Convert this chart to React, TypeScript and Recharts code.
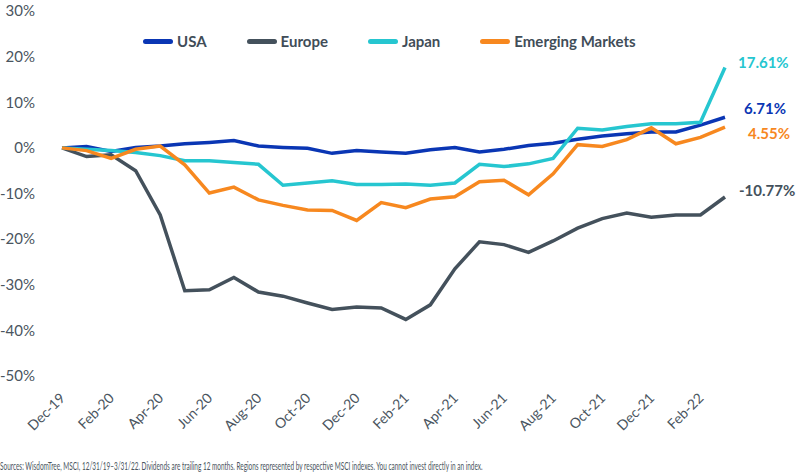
import React from 'react';
import { LineChart, Line, XAxis, YAxis, Legend, LabelList } from 'recharts';

// Monthly observations, Dec-19 through Mar-22
const months = [
  'Dec-19', 'Jan-20', 'Feb-20', 'Mar-20', 'Apr-20', 'May-20', 'Jun-20', 'Jul-20',
  'Aug-20', 'Sep-20', 'Oct-20', 'Nov-20', 'Dec-20', 'Jan-21', 'Feb-21', 'Mar-21',
  'Apr-21', 'May-21', 'Jun-21', 'Jul-21', 'Aug-21', 'Sep-21', 'Oct-21', 'Nov-21',
  'Dec-21', 'Jan-22', 'Feb-22', 'Mar-22',
];

// Cumulative dividend growth (%) by region
const usa = [
  0, 0.3, -0.8, 0.1, 0.4, 0.9, 1.2, 1.6, 0.4, 0.1, -0.1, -1.2, -0.6, -0.9,
  -1.2, -0.4, 0.1, -0.9, -0.3, 0.5, 1.0, 1.9, 2.6, 3.1, 3.5, 3.5, 5.0, 6.71,
];
const europe = [
  0, -1.9, -1.5, -5.0, -14.7, -31.3, -31.1, -28.4, -31.6, -32.5, -34.0, -35.4, -34.9, -35.1,
  -37.6, -34.4, -26.5, -20.6, -21.2, -22.9, -20.4, -17.6, -15.5, -14.3, -15.2, -14.7, -14.7, -10.77,
];
const japan = [
  0, -0.3, -0.6, -1.0, -1.7, -2.8, -2.8, -3.2, -3.6, -8.2, -7.7, -7.2, -8.0, -8.0,
  -7.9, -8.2, -7.7, -3.6, -4.1, -3.5, -2.3, 4.3, 3.9, 4.7, 5.3, 5.3, 5.6, 17.61,
];
const emerging = [
  0, -0.6, -2.3, -0.3, 0.4, -3.7, -9.9, -8.6, -11.4, -12.6, -13.6, -13.7, -15.9, -12.0,
  -13.1, -11.2, -10.7, -7.4, -7.1, -10.3, -5.7, 0.7, 0.3, 1.8, 4.4, 0.9, 2.3, 4.55,
];

const xTicks = [
  'Dec-19', 'Feb-20', 'Apr-20', 'Jun-20', 'Aug-20', 'Oct-20', 'Dec-20',
  'Feb-21', 'Apr-21', 'Jun-21', 'Aug-21', 'Oct-21', 'Dec-21', 'Feb-22',
];
const yTicks = [-50, -40, -30, -20, -10, 0, 10, 20, 30];

const sourceNote =
  'Sources: WisdomTree, MSCI, 12/31/19–3/31/22. Dividends are trailing 12 months. Regions represented by respective MSCI indexes. You cannot invest directly in an index.';

const data = months.map((m, i) => ({
  month: m,
  usa: usa[i],
  europe: europe[i],
  japan: japan[i],
  emerging: emerging[i],
}));

const FONT = 'Lato, "Open Sans", sans-serif';
const TEXT = '#4a5560';

const series = [
  { key: 'usa', name: 'USA', color: '#0a36b4', labelDx: 19, labelDy: -9 },
  { key: 'europe', name: 'Europe', color: '#44515c', labelDx: 14, labelDy: -7 },
  { key: 'japan', name: 'Japan', color: '#26c6d0', labelDx: 13, labelDy: -6 },
  { key: 'emerging', name: 'Emerging Markets', color: '#f7881f', labelDx: 23, labelDy: 6 },
];

const lastIndex = months.length - 1;

const endLabel = (color: string, dx: number, dy: number) => (props: any) => {
  const { x, y, value, index } = props;
  if (index !== lastIndex) return null;
  return (
    <text
      x={x + dx}
      y={y + dy}
      fill={color}
      fontSize={15}
      fontWeight={700}
      fontFamily={FONT}
      textAnchor="start"
      dominantBaseline="central"
    >
      {`${Number(value).toFixed(2)}%`}
    </text>
  );
};

const XTick = (props: any) => {
  const { x, y, payload } = props;
  const ax = x + 4;
  const ay = y + 15;
  return (
    <text
      x={ax}
      y={ay}
      transform={`rotate(-45, ${ax}, ${ay})`}
      textAnchor="end"
      fill={TEXT}
      fontSize={14}
      fontFamily={FONT}
    >
      {payload.value}
    </text>
  );
};

const LegendContent = () => (
  <div style={{ display: 'flex', alignItems: 'center', fontFamily: FONT }}>
    {series.map((s) => (
      <div key={s.key} style={{ display: 'flex', alignItems: 'center', marginRight: 40 }}>
        <div
          style={{
            width: 30,
            height: 5,
            borderRadius: 3,
            background: s.color,
            marginRight: 4,
          }}
        />
        <span style={{ fontSize: 15, fontWeight: 700, color: '#414d58', whiteSpace: 'nowrap' }}>
          {s.name}
        </span>
      </div>
    ))}
  </div>
);

export default function App() {
  return (
    <div style={{ position: 'fixed', left: 0, top: 0, width: 798, height: 476, background: '#fff' }}>
      <LineChart
        width={798}
        height={476}
        data={data}
        margin={{ top: 11, right: 73, bottom: 0, left: 0 }}
      >
        <XAxis
          dataKey="month"
          ticks={xTicks}
          interval={0}
          axisLine={false}
          tickLine={false}
          height={100}
          tick={<XTick />}
        />
        <YAxis
          domain={[-50, 30]}
          ticks={yTicks}
          width={62}
          axisLine={false}
          tickLine={false}
          tickSize={0}
          tickMargin={27}
          tickFormatter={(v: number) => `${v}%`}
          tick={{ fill: TEXT, fontSize: 15, fontFamily: FONT }}
        />
        <Legend
          layout="horizontal"
          verticalAlign="middle"
          align="center"
          wrapperStyle={{ top: 32, left: 143, width: 560 }}
          content={<LegendContent />}
        />
        {series.map((s) => (
          <Line
            key={s.key}
            dataKey={s.key}
            name={s.name}
            type="linear"
            stroke={s.color}
            strokeWidth={3.5}
            dot={false}
            activeDot={false}
            isAnimationActive={false}
          >
            <LabelList dataKey={s.key} content={endLabel(s.color, s.labelDx, s.labelDy)} />
          </Line>
        ))}
      </LineChart>
      <div
        style={{
          position: 'absolute',
          left: 0,
          top: 458,
          fontFamily: FONT,
          fontSize: 11.5,
          lineHeight: '16px',
          color: TEXT,
          whiteSpace: 'nowrap',
          transformOrigin: '0 0',
          transform: 'scaleX(0.56)',
        }}
      >
        {sourceNote}
      </div>
    </div>
  );
}
